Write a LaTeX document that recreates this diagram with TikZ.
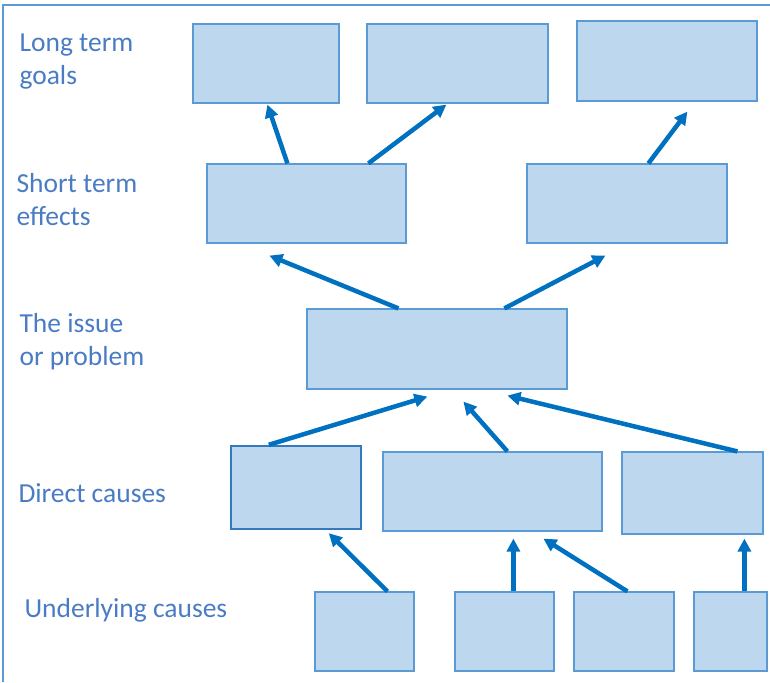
\documentclass[tikz,border=0pt]{standalone}
\usepackage{fontspec}
\setmainfont{Carlito}
\usetikzlibrary{arrows.meta}
\definecolor{boxfill}{HTML}{BDD7EE}
\definecolor{boxline}{HTML}{5B9BD5}
\definecolor{boxdark}{HTML}{3579BE}
\definecolor{arrowblue}{HTML}{0070C0}
\definecolor{labelblue}{HTML}{4A7CC4}

\begin{document}
\begin{tikzpicture}[x=1pt, y=-1pt,
    box/.style={draw=boxline, fill=boxfill, line width=1.2pt, inner sep=0pt},
    link/.style={arrowblue, line width=4.5pt, -{Triangle[length=13pt,width=13pt]}},
    level/.style={anchor=west, align=left, text=labelblue, font=\fontsize{27.5}{33}\selectfont}]

    \useasboundingbox (0,0) rectangle (770,682);

    % Frame
    \draw[boxline, line width=1.5pt] (770,5) -- (3,5) -- (3,682);

    % Level labels
    \node[level] (lbl1) at (16,62) {Long term\\goals};
    \node[level] (lbl2) at (13,200) {Short term\\effects};
    \node[level] (lbl3) at (16,342) {The issue\\or problem};
    \node[level] (lbl4) at (15,493) {Direct causes};
    \node[level] (lbl5) at (21,610) {Underlying causes};

    % Long term goals
    \node[box, minimum width=146pt, minimum height=79pt] (g1) at (266,63.5) {};
    \node[box, minimum width=181pt, minimum height=79pt] (g2) at (457.5,63.5) {};
    \node[box, minimum width=180pt, minimum height=80pt] (g3) at (667,61) {};

    % Short term effects
    \node[box, minimum width=199pt, minimum height=79pt] (s1) at (306.5,203.5) {};
    \node[box, minimum width=200pt, minimum height=79pt] (s2) at (627,203.5) {};

    % The issue
    \node[box, minimum width=260pt, minimum height=80pt] (issue) at (437,349) {};

    % Direct causes
    \node[box, draw=boxdark, line width=2.4pt, minimum width=130pt, minimum height=83pt] (d1) at (296,487.5) {};
    \node[box, minimum width=219pt, minimum height=79pt] (d2) at (492.5,491.5) {};
    \node[box, minimum width=141pt, minimum height=82pt] (d3) at (692.5,493) {};

    % Underlying causes
    \node[box, minimum width=99pt, minimum height=79pt] (u1) at (364.5,631.5) {};
    \node[box, minimum width=99pt, minimum height=79pt] (u2) at (504.5,631.5) {};
    \node[box, minimum width=100pt, minimum height=79pt] (u3) at (624,631.5) {};
    \node[box, minimum width=73pt, minimum height=79pt] (u4) at (730.5,631.5) {};

    % Short term -> long term
    \draw[link] ([xshift=81pt]s1.north west) -- ([xshift=75pt,yshift=-1pt]g1.south west);
    \draw[link] ([xshift=162pt]s1.north west) -- ([xshift=80pt,yshift=-1pt]g2.south west);
    \draw[link] ([xshift=122pt]s2.north west) -- ([xshift=111pt,yshift=-10pt]g3.south west);

    % Issue -> short term
    \draw[link] ([xshift=92pt]issue.north west) -- ([xshift=63pt,yshift=-12pt]s1.south west);
    \draw[link] ([xshift=198pt]issue.north west) -- ([xshift=79pt,yshift=-12pt]s2.south west);

    % Direct -> issue
    \draw[link] ([xshift=39pt]d1.north west) -- ([xshift=121pt,yshift=-7pt]issue.south west);
    \draw[link] ([xshift=125pt]d2.north west) -- ([xshift=157pt,yshift=-12pt]issue.south west);
    \draw[link] ([xshift=116pt]d3.north west) -- ([xshift=201pt,yshift=-6pt]issue.south west);

    % Underlying -> direct
    \draw[link] ([xshift=73pt]u1.north west) -- ([xshift=99pt,yshift=-3pt]d1.south west);
    \draw[link] ([xshift=59pt]u2.north west) -- ([xshift=131pt,yshift=-7pt]d2.south west);
    \draw[link] ([xshift=54pt]u3.north west) -- ([xshift=161pt,yshift=-7pt]d2.south west);
    \draw[link] ([xshift=51pt]u4.north west) -- ([xshift=123pt,yshift=-4pt]d3.south west);

\end{tikzpicture}
\end{document}
